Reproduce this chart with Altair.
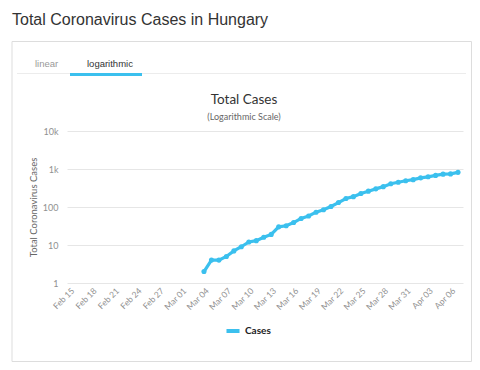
import altair as alt
import pandas as pd

# ---- data ----
dates = [
    "2020-03-04", "2020-03-05", "2020-03-06", "2020-03-07", "2020-03-08",
    "2020-03-09", "2020-03-10", "2020-03-11", "2020-03-12", "2020-03-13",
    "2020-03-14", "2020-03-15", "2020-03-16", "2020-03-17", "2020-03-18",
    "2020-03-19", "2020-03-20", "2020-03-21", "2020-03-22", "2020-03-23",
    "2020-03-24", "2020-03-25", "2020-03-26", "2020-03-27", "2020-03-28",
    "2020-03-29", "2020-03-30", "2020-03-31", "2020-04-01", "2020-04-02",
    "2020-04-03", "2020-04-04", "2020-04-05", "2020-04-06", "2020-04-07",
]
cases = [
    2, 4, 4, 5, 7, 9, 12, 13, 16, 19,
    30, 32, 39, 50, 58, 73, 85, 103, 131, 167,
    187, 226, 261, 300, 343, 408, 447, 492, 525, 585,
    623, 678, 733, 744, 817,
]
tick_dates = [
    (2, 15), (2, 18), (2, 21), (2, 24), (2, 27), (3, 1), (3, 4), (3, 7),
    (3, 10), (3, 13), (3, 16), (3, 19), (3, 22), (3, 25), (3, 28), (3, 31),
    (4, 3), (4, 6),
]
y_ticks = [1, 10, 100, 1000, 10000]
series_name = "Cases"

page_title = "Total Coronavirus Cases in Hungary"
chart_title = "Total Cases"
chart_subtitle = "(Logarithmic Scale)"
tab_labels = ["linear", "logarithmic"]

BLUE = "#3bc0ee"
FONT = "Lato"

df = pd.DataFrame({"date": dates, "cases": cases, "series": series_name})

x_domain = [
    alt.DateTime(year=2020, month=2, date=14, hours=16, utc=True),
    alt.DateTime(year=2020, month=4, date=7, hours=16, utc=True),
]
x_values = [alt.DateTime(year=2020, month=m, date=d, utc=True) for m, d in tick_dates]

W, H = 396, 152

base = alt.Chart(df)

line = base.mark_line(
    strokeWidth=3.2,
    point=alt.OverlayMarkDef(filled=True, size=26),
).encode(
    x=alt.X(
        "date:T",
        scale=alt.Scale(type="utc", domain=x_domain),
        axis=alt.Axis(
            values=x_values,
            labelExpr="utcFormat(datum.value, '%b %d')",
            labelAngle=-45,
            labelFontSize=8.5,
            labelColor="#909090",
            labelFont=FONT,
            labelPadding=3,
            ticks=False,
            domain=False,
            grid=False,
            title=None,
            labelOverlap=False,
        ),
    ),
    y=alt.Y(
        "cases:Q",
        scale=alt.Scale(type="log", domain=[1, 10000]),
        axis=alt.Axis(
            values=y_ticks,
            format="~s",
            labelFontSize=9,
            labelColor="#909090",
            labelFont=FONT,
            labelPadding=9,
            ticks=False,
            domain=False,
            gridColor="#e6e6e6",
            title="Total Coronavirus Cases",
            titleFont=FONT,
            titleFontSize=9.5,
            titleFontWeight="normal",
            titleColor="#666666",
            titleAngle=-90,
            titleX=-34,
            titleY=H / 2,
            titleAlign="center",
            titleBaseline="middle",
        ),
    ),
    color=alt.Color(
        "series:N",
        scale=alt.Scale(range=[BLUE]),
        legend=alt.Legend(
            title=None,
            orient="none",
            legendX=157,
            legendY=191,
            padding=0,
            symbolType="stroke",
            symbolStrokeWidth=4,
            symbolSize=170,
            labelFont=FONT,
            labelFontSize=10,
            labelFontWeight="bold",
            labelColor="#222222",
            labelOffset=3,
        ),
    ),
)

one = alt.Chart(pd.DataFrame({"k": [0]}))

frame = one.mark_rect(fillOpacity=0, stroke="#dddddd", strokeWidth=1).encode(
    x=alt.value(-55), x2=alt.value(404.5), y=alt.value(-89.5), y2=alt.value(230.5)
)
tab_line = one.mark_rule(color="#ececec", strokeWidth=1).encode(
    x=alt.value(-50), x2=alt.value(399), y=alt.value(-57.5)
)
tab_under = one.mark_rule(color=BLUE, strokeWidth=3).encode(
    x=alt.value(3), x2=alt.value(75), y=alt.value(-56.5)
)
t_page = one.mark_text(
    text=page_title, align="left", fontSize=16, font="Liberation Sans", color="#333333"
).encode(x=alt.value(-55), y=alt.value(-111))
t_tab1 = one.mark_text(
    text=tab_labels[0], align="left", fontSize=9.5, font="Liberation Sans", color="#999999"
).encode(x=alt.value(-32), y=alt.value(-67))
t_tab2 = one.mark_text(
    text=tab_labels[1], align="left", fontSize=9.5, font="Liberation Sans", color="#333333"
).encode(x=alt.value(20), y=alt.value(-67))
t_title = one.mark_text(
    text=chart_title, align="center", fontSize=13.5, font=FONT, color="#333333"
).encode(x=alt.value(177), y=alt.value(-31))
t_sub = one.mark_text(
    text=chart_subtitle, align="center", fontSize=9, font=FONT, color="#666666"
).encode(x=alt.value(177), y=alt.value(-14))

chart = alt.layer(
    frame, tab_line, tab_under, t_page, t_tab1, t_tab2, t_title, t_sub, line
).properties(
    width=W,
    height=H,
    padding={"left": 59, "top": 123, "right": 9, "bottom": 79},
    autosize=alt.AutoSizeParams(type="none"),
).configure_view(stroke=None)

chart.save("out.html", embed_options={"renderer": "svg", "actions": False})
